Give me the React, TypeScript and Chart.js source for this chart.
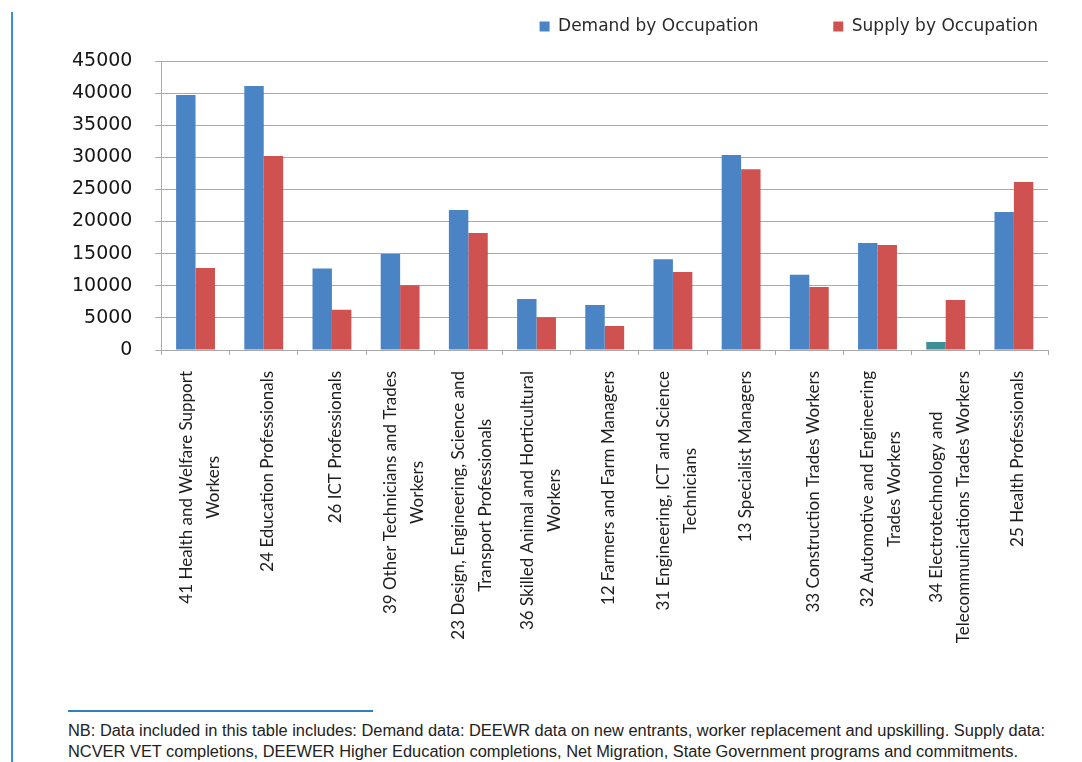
import React, { useEffect, useLayoutEffect, useRef } from "react";
import { Chart, registerables } from "chart.js";

Chart.register(...registerables);

const categories: string[][] = [
  ["41 Health and Welfare Support", "Workers"],
  ["24 Education Professionals"],
  ["26 ICT Professionals"],
  ["39 Other Technicians and Trades", "Workers"],
  ["23 Design, Engineering, Science and", "Transport Professionals"],
  ["36 Skilled Animal and Horticultural", "Workers"],
  ["12 Farmers and Farm Managers"],
  ["31 Engineering, ICT and Science", "Technicians"],
  ["13 Specialist Managers"],
  ["33 Construction Trades Workers"],
  ["32 Automotive and Engineering", "Trades Workers"],
  ["34 Electrotechnology and", "Telecommunications Trades Workers"],
  ["25 Health Professionals"],
];

const demandByOccupation: number[] = [
  39700, 41100, 12700, 14950, 21800, 7950, 7000, 14150, 30350, 11700, 16650, 1250, 21500,
];

const supplyByOccupation: number[] = [
  12750, 30200, 6250, 10100, 18200, 5100, 3750, 12150, 28150, 9800, 16350, 7800, 26150,
];

const seriesNames: string[] = ["Demand by Occupation", "Supply by Occupation"];

const yTicks = { min: 0, max: 45000, step: 5000 };

const footnoteLines: string[] = [
  "NB: Data included in this table includes: Demand data: DEEWR data on new entrants, worker replacement and upskilling. Supply data:",
  "NCVER VET completions, DEEWER Higher Education completions, Net Migration, State Government programs and commitments.",
];

const BLUE = "#4a84c4";
const TEAL = "#3f8f96";
const RED = "#cf5150";
const GRID = "#a9a9a9";

const xLabelPlugin = {
  id: "xLabelPlugin",
  afterDraw(chart: any) {
    const xs = chart.scales.x;
    const area = chart.chartArea;
    const ctx = chart.ctx;
    ctx.save();
    ctx.font = "17px Lato, sans-serif";
    ctx.fillStyle = "#1e1e1e";
    ctx.textAlign = "center";
    ctx.textBaseline = "middle";
    (chart.data.labels as any[]).forEach((lab, i) => {
      const lines: string[] = Array.isArray(lab) ? lab : [String(lab)];
      const w = Math.max(...lines.map((l) => ctx.measureText(l).width));
      const cx = xs.getPixelForTick(i) + 4;
      const y0 = area.bottom + 21;
      ctx.save();
      ctx.translate(cx, y0);
      ctx.rotate(-Math.PI / 2);
      lines.forEach((l, j) => {
        const off = (j - (lines.length - 1) / 2) * 27;
        ctx.fillText(l, -w / 2, off);
      });
      ctx.restore();
    });
    ctx.restore();
  },
};

const legendSpacer = {
  id: "legendSpacer",
  beforeLayout(chart: any) {
    const lg = chart.legend;
    if (lg && !lg.__patched) {
      const orig = lg.fit;
      lg.fit = function (this: any) {
        orig.call(this);
        this.height += 16;
      };
      lg.__patched = true;
    }
  },
};

function ChartView() {
  const ref = useRef<HTMLCanvasElement | null>(null);
  useEffect(() => {
    if (!ref.current) return;
    const chart = new Chart(ref.current, {
      type: "bar",
      data: {
        labels: categories,
        datasets: [
          {
            label: seriesNames[0],
            data: demandByOccupation,
            backgroundColor: (c: any) => (c.dataIndex === 11 ? TEAL : BLUE),
            borderWidth: 0,
            categoryPercentage: 0.57,
            barPercentage: 1,
          },
          {
            label: seriesNames[1],
            data: supplyByOccupation,
            backgroundColor: RED,
            borderWidth: 0,
            categoryPercentage: 0.57,
            barPercentage: 1,
          },
        ],
      },
      options: {
        animation: false,
        responsive: true,
        maintainAspectRatio: false,
        layout: { padding: { left: 41, right: 26, top: 0, bottom: 343 } },
        plugins: {
          tooltip: { enabled: false },
          legend: {
            position: "top",
            align: "end",
            labels: {
              boxWidth: 10,
              boxHeight: 10,
              padding: 10,
              color: "#2a2a2a",
              font: { family: "'DejaVu Sans', sans-serif", size: 17 },
              generateLabels: (chart: any) => {
                const items = (Chart.defaults as any).plugins.legend.labels.generateLabels(chart);
                items[0].text = items[0].text + " ".repeat(12);
                return items;
              },
            },
          },
        },
        scales: {
          x: {
            grid: {
              display: true,
              drawOnChartArea: false,
              drawTicks: true,
              tickLength: 5,
              color: GRID,
              offset: true,
            },
            border: { display: true, color: GRID },
            ticks: { display: false },
          },
          y: {
            min: yTicks.min,
            max: yTicks.max,
            grid: { color: GRID, tickLength: 6, drawTicks: true },
            border: { display: true, color: GRID },
            ticks: {
              stepSize: yTicks.step,
              padding: 23,
              color: "#161616",
              font: { family: "'DejaVu Sans', sans-serif", size: 19 },
              callback: (v: any) => String(v),
            },
          },
        },
      },
      plugins: [xLabelPlugin, legendSpacer],
    });
    return () => chart.destroy();
  }, []);
  return <canvas ref={ref} />;
}

function Footnote() {
  const ref = useRef<HTMLDivElement | null>(null);
  useLayoutEffect(() => {
    const el = ref.current;
    if (!el) return;
    const first = el.firstElementChild as HTMLElement | null;
    if (!first) return;
    const w = first.getBoundingClientRect().width;
    if (w > 0) el.style.transform = `scaleX(${977 / w})`;
  }, []);
  return (
    <div
      ref={ref}
      style={{
        position: "absolute",
        left: 68,
        top: 720,
        fontFamily: "'Liberation Sans', Arial, sans-serif",
        fontSize: 16,
        lineHeight: "21px",
        color: "#222",
        whiteSpace: "nowrap",
        transformOrigin: "0 0",
      }}
    >
      {footnoteLines.map((l, i) => (
        <div key={i} style={{ display: "table" }}>
          {l}
        </div>
      ))}
    </div>
  );
}

export default function App() {
  return (
    <div
      style={{
        position: "fixed",
        left: 0,
        top: 0,
        width: 1082,
        height: 762,
        background: "#ffffff",
        overflow: "hidden",
      }}
    >
      <div
        style={{ position: "absolute", left: 11, top: 12, width: 2, height: 750, background: "#3a8fd6" }}
      />
      <div style={{ position: "absolute", left: 8, top: 8, width: 1066, height: 690 }}>
        <ChartView />
      </div>
      <div
        style={{ position: "absolute", left: 68, top: 710, width: 305, height: 2, background: "#2f7fc1" }}
      />
      <Footnote />
    </div>
  );
}
